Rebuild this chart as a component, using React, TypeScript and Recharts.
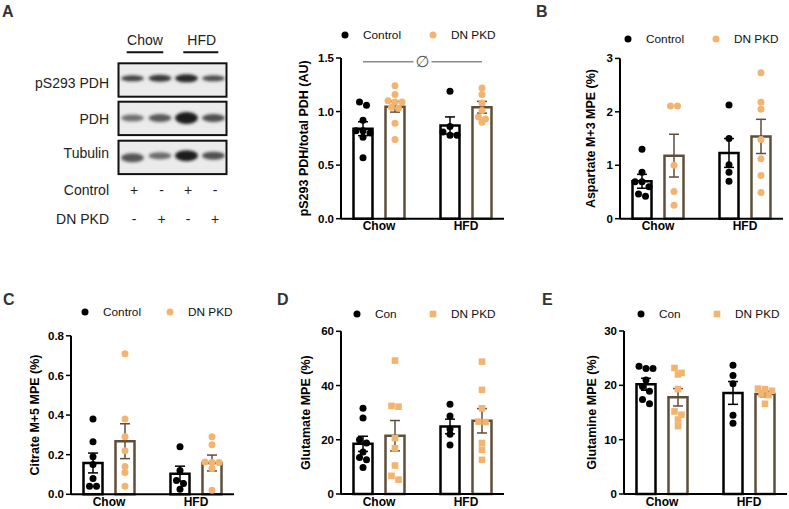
import React from 'react';
import { ComposedChart, Bar, ErrorBar, Scatter, XAxis, YAxis, Legend, ReferenceLine } from 'recharts';

const FONT = '"Liberation Sans", Arial, Helvetica, sans-serif';
const INK = '#000000';
const ORANGE = '#F2B46F';
const BROWN = '#5E4E3A';
const LETTER = '#333333';

// ---------- data ----------
const GROUPS = ['Chow', 'HFD'];

// A: pS293 PDH / total PDH
const A_TICKS = [0, 0.5, 1.0, 1.5];
const A_TICK_LABELS = ['0.0', '0.5', '1.0', '1.5'];
const A_CTRL_MEAN = [0.84, 0.87];
const A_CTRL_SEM = [0.065, 0.08];
const A_DN_MEAN = [1.045, 1.04];
const A_DN_SEM = [0.05, 0.055];
const A_CTRL_CHOW = [1.09, 1.06, 0.92, 0.82, 0.82, 0.8, 0.76, 0.57];
const A_CTRL_HFD = [1.19, 0.86, 0.81, 0.78, 0.78];
const A_DN_CHOW = [1.24, 1.16, 1.1, 1.09, 1.09, 1.04, 1.03, 0.89, 0.74];
const A_DN_HFD = [1.22, 1.16, 1.08, 1.01, 0.95, 0.93, 0.9];
const A_SIG_LEVEL = 1.465;

// B: Aspartate M+3 MPE
const B_TICKS = [0, 1, 2, 3];
const B_TICK_LABELS = ['0', '1', '2', '3'];
const B_CTRL_MEAN = [0.7, 1.23];
const B_CTRL_SEM = [0.13, 0.27];
const B_DN_MEAN = [1.18, 1.54];
const B_DN_SEM = [0.4, 0.32];
const B_CTRL_CHOW = [1.3, 0.87, 0.69, 0.69, 0.6, 0.46, 0.42];
const B_CTRL_HFD = [2.13, 1.5, 1.01, 0.87, 0.7];
const B_DN_CHOW = [2.11, 2.11, 1.0, 0.51, 0.25];
const B_DN_HFD = [2.73, 2.18, 2.05, 1.48, 1.12, 0.81, 0.49];

// C: Citrate M+5 MPE
const C_TICKS = [0, 0.2, 0.4, 0.6, 0.8];
const C_TICK_LABELS = ['0.0', '0.2', '0.4', '0.6', '0.8'];
const C_CTRL_MEAN = [0.158, 0.104];
const C_CTRL_SEM = [0.05, 0.038];
const C_DN_MEAN = [0.268, 0.158];
const C_DN_SEM = [0.088, 0.04];
const C_CTRL_CHOW = [0.38, 0.265, 0.19, 0.15, 0.08, 0.04, 0.04];
const C_CTRL_HFD = [0.24, 0.12, 0.07, 0.055, 0.025];
const C_DN_CHOW = [0.71, 0.38, 0.29, 0.22, 0.14, 0.11, 0.04];
const C_DN_HFD = [0.29, 0.25, 0.163, 0.16, 0.162, 0.13, 0.02];

// D: Glutamate MPE
const D_TICKS = [0, 20, 40, 60];
const D_TICK_LABELS = ['0', '20', '40', '60'];
const D_CTRL_MEAN = [18.5, 24.9];
const D_CTRL_SEM = [2.8, 2.7];
const D_DN_MEAN = [21.5, 27.0];
const D_DN_SEM = [5.6, 4.5];
const D_CTRL_CHOW = [31.6, 28.0, 20.0, 18.8, 15.5, 13.5, 12.6, 9.8];
const D_CTRL_HFD = [33.1, 28.8, 24.0, 22.0, 18.1];
const D_DN_CHOW = [49.2, 32.5, 32.2, 20.6, 16.9, 10.5, 6.7, 5.3];
const D_DN_HFD = [48.8, 38.4, 31.6, 26.7, 26.5, 18.8, 16.3, 12.6];

// E: Glutamine MPE
const E_TICKS = [0, 10, 20, 30];
const E_TICK_LABELS = ['0', '10', '20', '30'];
const E_CTRL_MEAN = [20.2, 18.6];
const E_CTRL_SEM = [1.1, 2.1];
const E_DN_MEAN = [17.8, 18.4];
const E_DN_SEM = [1.6, 0.5];
const E_CTRL_CHOW = [23.5, 23.1, 23.1, 21.0, 19.8, 18.9, 17.4, 16.6];
const E_CTRL_HFD = [23.7, 21.8, 20.3, 14.5, 13.0];
const E_DN_CHOW = [23.2, 22.3, 22.0, 19.3, 15.2, 14.6, 13.7, 12.5];
const E_DN_HFD = [19.4, 19.3, 19.0, 18.4, 18.2, 16.6];

// Western blot
const BLOT_ROWS = ['pS293 PDH', 'PDH', 'Tubulin'];
const BLOT_INTENSITY = [
  [0.8, 0.85, 0.95, 0.75],
  [0.6, 0.7, 1.0, 0.75],
  [0.72, 0.62, 1.0, 0.75],
];
const CONTROL_SIGNS = ['+', '-', '+', '-'];
const DN_SIGNS = ['-', '+', '-', '+'];

// ---------- layout ----------
const YW = 50;
const PW = 163;
const PAD = -5.5;
const MR = 2;
const XH = 18;
const MB = 2;
const BAR = 19;
const GAP = 13;
const R = 3.5;
const STEP = 7;
const ROW_PX = 5;
const RANGE_W = PW - 2 * PAD;
const UPP = 2 / RANGE_W; // numeric units per pixel
const SERIES_OFF = (BAR + GAP) / 2;

type Cfg = {
  letter: string;
  x0: number; yt: number; yb: number; legendY: number;
  d1: number; d2: number; titleDx: number;
  max: number; ticks: number[]; tickLabels: string[]; title: string;
  names: [string, string]; dnShape: 'circle' | 'square';
  ctrlMean: number[]; ctrlSem: number[]; dnMean: number[]; dnSem: number[];
  ctrlPts: number[][]; dnPts: number[][]; sig?: number;
};

const PANELS: Cfg[] = [
  {
    letter: 'A', x0: 341, yt: 58, yb: 218.7, legendY: 35, d1: 4, d2: 92, titleDx: 36.5,
    max: 1.5, ticks: A_TICKS, tickLabels: A_TICK_LABELS, title: 'pS293 PDH/total PDH (AU)',
    names: ['Control', 'DN PKD'], dnShape: 'circle',
    ctrlMean: A_CTRL_MEAN, ctrlSem: A_CTRL_SEM, dnMean: A_DN_MEAN, dnSem: A_DN_SEM,
    ctrlPts: [A_CTRL_CHOW, A_CTRL_HFD], dnPts: [A_DN_CHOW, A_DN_HFD], sig: A_SIG_LEVEL,
  },
  {
    letter: 'B', x0: 620, yt: 58.7, yb: 219, legendY: 39.3, d1: 8, d2: 96, titleDx: 29,
    max: 3, ticks: B_TICKS, tickLabels: B_TICK_LABELS, title: 'Aspartate M+3 MPE (%)',
    names: ['Control', 'DN PKD'], dnShape: 'circle',
    ctrlMean: B_CTRL_MEAN, ctrlSem: B_CTRL_SEM, dnMean: B_DN_MEAN, dnSem: B_DN_SEM,
    ctrlPts: [B_CTRL_CHOW, B_CTRL_HFD], dnPts: [B_DN_CHOW, B_DN_HFD],
  },
  {
    letter: 'C', x0: 71, yt: 335.5, yb: 494, legendY: 311.7, d1: 14, d2: 99, titleDx: 36,
    max: 0.8, ticks: C_TICKS, tickLabels: C_TICK_LABELS, title: 'Citrate M+5 MPE (%)',
    names: ['Control', 'DN PKD'], dnShape: 'circle',
    ctrlMean: C_CTRL_MEAN, ctrlSem: C_CTRL_SEM, dnMean: C_DN_MEAN, dnSem: C_DN_SEM,
    ctrlPts: [C_CTRL_CHOW, C_CTRL_HFD], dnPts: [C_DN_CHOW, C_DN_HFD],
  },
  {
    letter: 'D', x0: 341, yt: 331.3, yb: 494, legendY: 314, d1: 16, d2: 92, titleDx: 35,
    max: 60, ticks: D_TICKS, tickLabels: D_TICK_LABELS, title: 'Glutamate MPE (%)',
    names: ['Con', 'DN PKD'], dnShape: 'square',
    ctrlMean: D_CTRL_MEAN, ctrlSem: D_CTRL_SEM, dnMean: D_DN_MEAN, dnSem: D_DN_SEM,
    ctrlPts: [D_CTRL_CHOW, D_CTRL_HFD], dnPts: [D_DN_CHOW, D_DN_HFD],
  },
  {
    letter: 'E', x0: 624, yt: 331, yb: 494, legendY: 314, d1: 17, d2: 93, titleDx: 32,
    max: 30, ticks: E_TICKS, tickLabels: E_TICK_LABELS, title: 'Glutamine MPE (%)',
    names: ['Con', 'DN PKD'], dnShape: 'square',
    ctrlMean: E_CTRL_MEAN, ctrlSem: E_CTRL_SEM, dnMean: E_DN_MEAN, dnSem: E_DN_SEM,
    ctrlPts: [E_CTRL_CHOW, E_CTRL_HFD], dnPts: [E_DN_CHOW, E_DN_HFD],
  },
];

// simple row-based beeswarm (pixel offsets)
function swarm(values: number[], pxPerUnit: number): number[] {
  const idx = values.map((_, i) => i).sort((a, b) => values[b] - values[a]);
  const out = new Array(values.length).fill(0);
  let row: number[] = [];
  let start = 0;
  const flush = () => {
    row.forEach((i, k) => {
      out[i] = (k - (row.length - 1) / 2) * STEP;
    });
  };
  for (const i of idx) {
    const y = values[i] * pxPerUnit;
    if (row.length && start - y >= ROW_PX) {
      flush();
      row = [];
    }
    if (!row.length) start = y;
    row.push(i);
  }
  flush();
  return out;
}

function buildPoints(groups: number[][], seriesSign: number, pxPerUnit: number) {
  const pts: { x: number; y: number }[] = [];
  groups.forEach((vals, g) => {
    const jit = swarm(vals, pxPerUnit);
    vals.forEach((v, k) => {
      pts.push({ x: g + 0.5 + (seriesSign * SERIES_OFF + jit[k]) * UPP, y: v });
    });
  });
  return pts;
}

const Marker = ({ left, shape, color }: { left: number; shape: string; color: string }) => (
  <svg width={8} height={8} style={{ position: 'absolute', left: left - 4, top: 4 }}>
    {shape === 'square' ? (
      <rect x={0.7} y={0.7} width={6.6} height={6.6} fill={color} />
    ) : (
      <circle cx={4} cy={4} r={R} fill={color} />
    )}
  </svg>
);

const LegendRow = ({ cfg }: { cfg: Cfg }) => (
  <div style={{ position: 'relative', width: '100%', height: 16, fontFamily: FONT }}>
    <Marker left={YW + cfg.d1} shape="circle" color={INK} />
    <span style={{ position: 'absolute', left: YW + cfg.d1 + 18, top: 0, fontSize: 11.8, lineHeight: '16px', color: '#111', whiteSpace: 'nowrap' }}>{cfg.names[0]}</span>
    <Marker left={YW + cfg.d2} shape={cfg.dnShape} color={ORANGE} />
    <span style={{ position: 'absolute', left: YW + cfg.d2 + 18, top: 0, fontSize: 11.8, lineHeight: '16px', color: '#111', whiteSpace: 'nowrap' }}>{cfg.names[1]}</span>
  </div>
);

const SigLabel = (props: any) => {
  const vb = props && props.viewBox;
  if (!vb) return null;
  const cx = vb.x + vb.width / 2;
  const cy = vb.y;
  return (
    <g>
      <rect x={cx - 9} y={cy - 8} width={18} height={16} fill="#fff" />
      <text x={cx} y={cy} textAnchor="middle" dominantBaseline="central" fontFamily='"DejaVu Sans", sans-serif' fontSize={16} fill="#555">∅</text>
    </g>
  );
};

function Panel({ cfg }: { cfg: Cfg }) {
  const top = cfg.legendY - 15;
  const mt = cfg.yt - top;
  const plotH = cfg.yb - cfg.yt;
  const height = mt + plotH + XH + MB;
  const width = YW + PW + MR;
  const pxPerUnit = plotH / cfg.max;
  const barData = GROUPS.map((g, i) => ({
    cat: g,
    ctrl: cfg.ctrlMean[i],
    ctrlErr: cfg.ctrlSem[i],
    dn: cfg.dnMean[i],
    dnErr: cfg.dnSem[i],
  }));
  const ctrlPts = buildPoints(cfg.ctrlPts, -1, pxPerUnit);
  const dnPts = buildPoints(cfg.dnPts, 1, pxPerUnit);
  const titleX = YW - cfg.titleDx;
  const titleY = mt + plotH / 2;
  const dotShape = (p: any) => <circle cx={p.cx} cy={p.cy} r={R} fill={INK} />;
  const dnShape = (p: any) =>
    cfg.dnShape === 'square' ? (
      <rect x={p.cx - 3.3} y={p.cy - 3.3} width={6.6} height={6.6} fill={ORANGE} />
    ) : (
      <circle cx={p.cx} cy={p.cy} r={R} fill={ORANGE} />
    );
  const off = SERIES_OFF * UPP;
  return (
    <div style={{ position: 'absolute', left: cfg.x0 - YW, top, width, height }}>
      <ComposedChart
        width={width}
        height={height}
        data={barData}
        margin={{ top: mt, right: MR, left: 0, bottom: MB }}
        barGap={GAP}
      >
        <XAxis
          xAxisId="cat"
          dataKey="cat"
          type="category"
          interval={0}
          padding={{ left: PAD, right: PAD }}
          height={XH}
          tickLine={false}
          tickSize={1}
          tickMargin={2}
          axisLine={{ stroke: INK, strokeWidth: 2 }}
          tick={{ fontSize: 12, fontWeight: 700, fill: INK, fontFamily: FONT }}
        />
        <XAxis
          xAxisId="num"
          dataKey="x"
          type="number"
          domain={[0, 2]}
          padding={{ left: PAD, right: PAD }}
          allowDataOverflow
          hide
        />
        <YAxis
          type="number"
          domain={[0, cfg.max]}
          ticks={cfg.ticks}
          interval={0}
          width={YW}
          tickFormatter={(v: number) => cfg.tickLabels[cfg.ticks.indexOf(v)] ?? String(v)}
          tickSize={5}
          tickMargin={2}
          tickLine={{ stroke: INK, strokeWidth: 1.5 }}
          axisLine={{ stroke: INK, strokeWidth: 2 }}
          tick={{ fontSize: 11.5, fontWeight: 700, fill: INK, fontFamily: FONT }}
          label={() => (
            <text
              x={titleX}
              y={titleY}
              transform={`rotate(-90, ${titleX}, ${titleY})`}
              textAnchor="middle"
              dominantBaseline="central"
              fontFamily={FONT}
              fontWeight={700}
              fontSize={12.5}
              fill={INK}
            >
              {cfg.title}
            </text>
          )}
        />
        <Legend
          layout="horizontal"
          verticalAlign="middle"
          align="center"
          wrapperStyle={{ position: 'absolute', left: 0, top: 7, width, height: 16 }}
          content={() => <LegendRow cfg={cfg} />}
        />
        <Bar xAxisId="cat" dataKey="ctrl" fill="#ffffff" stroke={INK} strokeWidth={2.5} barSize={BAR} isAnimationActive={false}>
          <ErrorBar dataKey="ctrlErr" direction="y" width={5} stroke={INK} strokeWidth={1.5} isAnimationActive={false} />
        </Bar>
        <Bar xAxisId="cat" dataKey="dn" fill="#ffffff" stroke={BROWN} strokeWidth={2.5} barSize={BAR} isAnimationActive={false}>
          <ErrorBar dataKey="dnErr" direction="y" width={5} stroke={BROWN} strokeWidth={1.5} isAnimationActive={false} />
        </Bar>
        <Scatter xAxisId="num" data={ctrlPts} dataKey="y" fill={INK} shape={dotShape} isAnimationActive={false} />
        <Scatter xAxisId="num" data={dnPts} dataKey="y" fill={ORANGE} shape={dnShape} isAnimationActive={false} />
        {cfg.sig !== undefined && (
          <ReferenceLine
            xAxisId="num"
            segment={[{ x: 0.5 - off, y: cfg.sig }, { x: 1.5 + off, y: cfg.sig }]}
            stroke="#8a8a8a"
            strokeWidth={1.5}
            ifOverflow="visible"
            label={<SigLabel />}
          />
        )}
      </ComposedChart>
    </div>
  );
}

// ---------- blot & panel letters ----------
const LANES = [132.5, 160, 186.5, 213.5];
const BOX_X = 118.5;
const BOX_W = 108;
const BOX_Y = [63.3, 101.7, 140.7];
const BOX_H = 33.4;
const BAND_DY = [15, 16.3, 15];
const BAND_H = [
  [6, 7, 8, 6],
  [7, 8, 12, 8],
  [9, 7, 11, 8],
];
const BAND_SHIFT = [
  [0, 0, 0, 0],
  [0, 0, 0, 0],
  [2, 0, 0, 0],
];
const LABEL_Y = [88.3, 124, 158.3];

function Overlay() {
  return (
    <svg width={789} height={509} style={{ position: 'absolute', left: 0, top: 0 }}>
      <defs>
        <filter id="blur" x="-50%" y="-100%" width="200%" height="300%">
          <feGaussianBlur stdDeviation="1.6" />
        </filter>
        {BOX_Y.map((y, r) => (
          <clipPath id={`clip${r}`} key={r}>
            <rect x={BOX_X} y={y} width={BOX_W} height={BOX_H} />
          </clipPath>
        ))}
      </defs>
      <g fontFamily={FONT} fontWeight={700} fontSize={16} fill={LETTER}>
        <text x={2} y={17}>A</text>
        <text x={536} y={17}>B</text>
        <text x={3} y={305}>C</text>
        <text x={277} y={305}>D</text>
        <text x={542} y={305}>E</text>
      </g>
      <g fontFamily={FONT} fontSize={14} fill="#222">
        <text x={145} y={45} textAnchor="middle">Chow</text>
        <text x={201.7} y={45} textAnchor="middle">HFD</text>
        {BLOT_ROWS.map((t, r) => (
          <text key={t} x={109} y={LABEL_Y[r]} textAnchor="end">{t}</text>
        ))}
        <text x={109} y={195} textAnchor="end">Control</text>
        <text x={109} y={224} textAnchor="end">DN PKD</text>
        {CONTROL_SIGNS.map((s, i) => (
          <text key={`c${i}`} x={LANES[i] + 1.5} y={195} textAnchor="middle">{s}</text>
        ))}
        {DN_SIGNS.map((s, i) => (
          <text key={`d${i}`} x={LANES[i] + 1.5} y={224} textAnchor="middle">{s}</text>
        ))}
      </g>
      <line x1={126.7} x2={163.3} y1={52.3} y2={52.3} stroke="#111" strokeWidth={2} />
      <line x1={183.3} x2={218.3} y1={52.3} y2={52.3} stroke="#111" strokeWidth={2} />
      {BOX_Y.map((y, r) => (
        <g key={r}>
          <rect x={BOX_X} y={y} width={BOX_W} height={BOX_H} fill="#ebebeb" />
          <g clipPath={`url(#clip${r})`} filter="url(#blur)">
            {LANES.map((lx, i) => (
              <ellipse
                key={i}
                cx={lx}
                cy={y + BAND_DY[r] + BAND_SHIFT[r][i]}
                rx={11.5}
                ry={BAND_H[r][i] / 2}
                fill="#1a1a1a"
                opacity={BLOT_INTENSITY[r][i]}
              />
            ))}
          </g>
          <rect x={BOX_X} y={y} width={BOX_W} height={BOX_H} fill="none" stroke="#111" strokeWidth={2} />
        </g>
      ))}
    </svg>
  );
}

export default function App() {
  return (
    <div style={{ position: 'absolute', left: 0, top: 0, width: 789, height: 509, background: '#ffffff', overflow: 'hidden', fontFamily: FONT }}>
      <Overlay />
      {PANELS.map((p) => (
        <Panel key={p.letter} cfg={p} />
      ))}
    </div>
  );
}
